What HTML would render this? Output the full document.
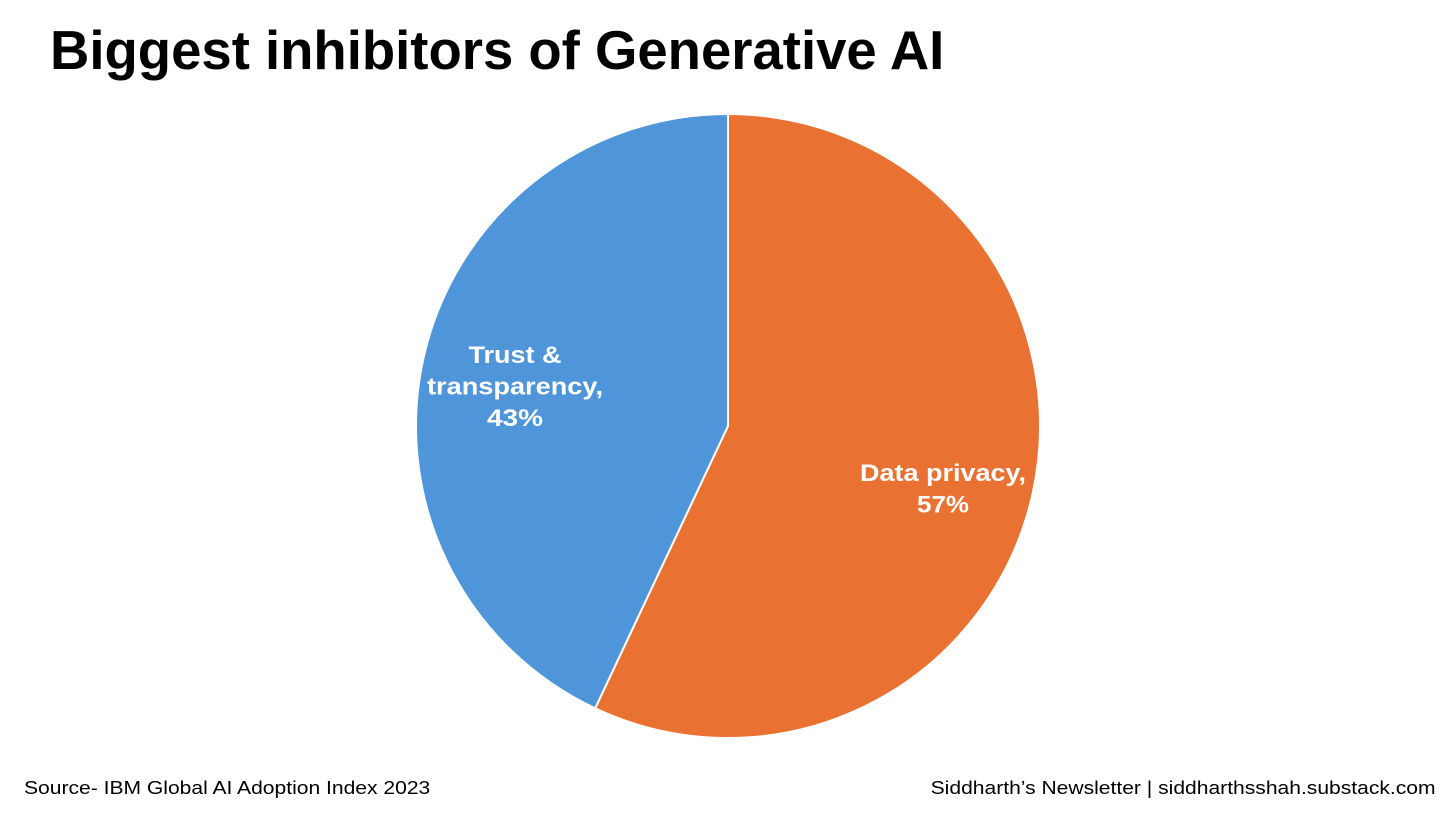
<!DOCTYPE html>
<html><head><meta charset="utf-8"><style>
html,body{margin:0;padding:0;background:#fff;width:1456px;height:819px;overflow:hidden;font-family:"Liberation Sans",Arial,sans-serif}
#title{position:absolute;left:50px;top:19px;font-size:54.5px;font-weight:bold;color:#000;margin:0;white-space:nowrap}
.foot{position:absolute;top:778px;font-size:18px;color:#000;white-space:nowrap}
svg{position:absolute;left:0;top:0}
</style></head><body>
<h1 id="title">Biggest inhibitors of Generative AI</h1>
<svg id="chart" width="1456" height="819"></svg>
<div class="foot" style="left:24px;transform:scaleX(1.17);transform-origin:left top">Source- IBM Global AI Adoption Index 2023</div>
<div class="foot" style="right:20px;transform:scaleX(1.17);transform-origin:right top">Siddharth’s Newsletter | siddharthsshah.substack.com</div>
<script>
const categories = ["Data privacy", "Trust & transparency"];
const values = [57, 43];
const colors = ["#E97132", "#4E95D9"];
const labelLines = [["Data privacy,", "57%"], ["Trust &", "transparency,", "43%"]];
const labelWidths = [[166, 52], [93, 176, 56]];
const labelPos = [[943, 481], [515, 363]];
const svg = document.getElementById('chart');
const NS = 'http://www.w3.org/2000/svg';
const cx = 728, cy = 426, r = 312;
const total = values.reduce((a,b)=>a+b,0);
let start = 0;
function pt(a){return [cx + r*Math.sin(a), cy - r*Math.cos(a)];}
values.forEach((v,i)=>{
  const a0 = start/total*2*Math.PI, a1 = (start+v)/total*2*Math.PI;
  const p0 = pt(a0), p1 = pt(a1);
  const large = (a1-a0) > Math.PI ? 1 : 0;
  const path = document.createElementNS(NS,'path');
  path.setAttribute('d', `M${cx},${cy} L${p0[0]},${p0[1]} A${r},${r} 0 ${large} 1 ${p1[0]},${p1[1]} Z`);
  path.setAttribute('fill', colors[i]);
  path.setAttribute('stroke', '#fff');
  path.setAttribute('stroke-width', '2');
  
  
  svg.appendChild(path);
  start += v;
});
labelLines.forEach((lines,i)=>{
  const t = document.createElementNS(NS,'text');
  
  
  t.setAttribute('text-anchor','middle');
  t.setAttribute('fill','#fff');
  t.setAttribute('font-size','24');
  t.setAttribute('font-weight','bold');
  t.setAttribute('font-family','"Liberation Sans",Arial,sans-serif');
  lines.forEach((ln,j)=>{
    const s = document.createElementNS(NS,'tspan');
    s.setAttribute('x', labelPos[i][0]);
    s.setAttribute('y', labelPos[i][1] + j*31.5);
    s.setAttribute('textLength', labelWidths[i][j]);
    s.setAttribute('lengthAdjust', 'spacingAndGlyphs');
    s.textContent = ln;
    t.appendChild(s);
  });
  svg.appendChild(t);
});
</script>
</body></html>
